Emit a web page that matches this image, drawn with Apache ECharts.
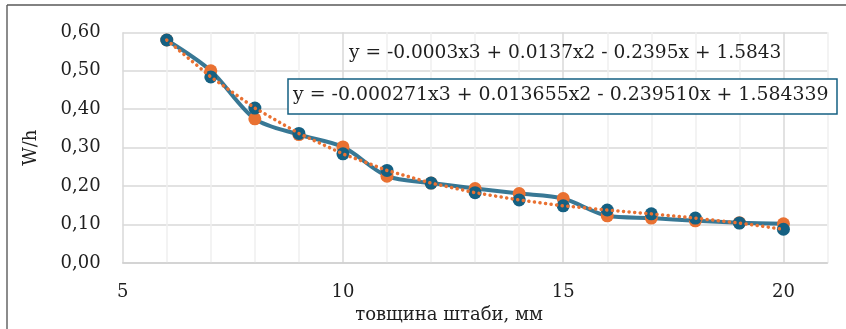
<!DOCTYPE html>
<html>
<head>
<meta charset="utf-8">
<script src="https://cdn.jsdelivr.net/npm/echarts@6/dist/echarts.min.js"></script>
<style>
  html, body { margin: 0; padding: 0; background: #ffffff; }
  #chart { width: 846px; height: 329px; }
</style>
</head>
<body>
<div id="chart"></div>
<script>
// Strip thickness, mm
const thickness = [6, 7, 8, 9, 10, 11, 12, 13, 14, 15, 16, 17, 18, 19, 20];
// Measured W/h
const measured = [0.580, 0.500, 0.375, 0.334, 0.302, 0.226, 0.208, 0.194, 0.181, 0.168, 0.123, 0.117, 0.110, 0.105, 0.102];
// Values of the cubic approximation at the same thicknesses
const fitted = [0.580, 0.484, 0.403, 0.337, 0.284, 0.241, 0.208, 0.183, 0.164, 0.149, 0.138, 0.128, 0.117, 0.104, 0.088];
// Axis ranges and ticks
const xRange = [5, 21];
const xLabelStep = 5;
const yRange = [0, 0.6];
const yStep = 0.1;
// Equation captions
const eqShort = 'y = -0.0003x3 + 0.0137x2 - 0.2395x + 1.5843';
const eqLong = 'y = -0.000271x3 + 0.013655x2 - 0.239510x + 1.584339';
const xTitle = 'товщина штаби, мм';
const yTitle = 'W/h';

const FONT = '"DejaVu Serif", serif';
const ORANGE = '#E97132';
const BLUE = '#156082';

const pair = (xs, ys) => xs.map((x, i) => [x, ys[i]]);

const chart = echarts.init(document.getElementById('chart'), null, { renderer: 'canvas' });
chart.setOption({
  backgroundColor: '#ffffff',
  animation: false,
  grid: { left: 122.7, right: 18.5, top: 32.3, bottom: 63 },
  xAxis: {
    type: 'value',
    min: xRange[0], max: xRange[1], interval: 1,
    name: xTitle,
    nameLocation: 'middle',
    nameGap: 36,
    nameTextStyle: { fontFamily: FONT, fontSize: 18, color: '#1f1f1f', padding: [0, 52, 0, 0] },
    axisLine: { show: true, lineStyle: { color: '#d0d0d0', width: 1.5 } },
    axisTick: { show: false },
    axisLabel: {
      margin: 20,
      fontFamily: FONT, fontSize: 18, color: '#1f1f1f',
      formatter: v => (v % xLabelStep === 0 ? String(v) : '')
    },
    splitLine: {
      show: true,
      lineStyle: { color: ['#d9d9d9', '#efefef', '#efefef', '#efefef', '#efefef'], width: 1.5 }
    }
  },
  yAxis: {
    type: 'value',
    min: yRange[0], max: yRange[1], interval: yStep,
    name: yTitle,
    nameLocation: 'middle',
    nameGap: 82,
    nameTextStyle: { fontFamily: FONT, fontSize: 18, color: '#1f1f1f' },
    axisLine: { show: false },
    axisTick: { show: false },
    axisLabel: {
      margin: 22,
      fontFamily: FONT, fontSize: 18, color: '#1f1f1f',
      formatter: v => v.toFixed(2).replace('.', ',')
    },
    splitLine: { show: true, lineStyle: { color: '#d9d9d9', width: 1.5 } }
  },
  series: [
    {
      // measured values: orange markers joined by a smoothed line
      type: 'line',
      data: pair(thickness, measured),
      smooth: 0.3,
      symbol: 'circle',
      symbolSize: 13,
      itemStyle: { color: ORANGE },
      lineStyle: { color: BLUE, width: 4, opacity: 0.85 },
      z: 2
    },
    {
      // approximation points
      type: 'line',
      data: pair(thickness, fitted),
      symbol: 'circle',
      symbolSize: 13,
      itemStyle: { color: BLUE },
      lineStyle: { width: 0, opacity: 0 },
      z: 3
    },
    {
      // dotted approximation curve on top
      type: 'line',
      data: pair(thickness, fitted),
      showSymbol: false,
      symbol: 'none',
      lineStyle: { color: ORANGE, width: 3.5, type: [0.1, 5.5], cap: 'round' },
      z: 4
    }
  ],
  graphic: [
    { type: 'line', shape: { x1: 7, y1: 5, x2: 7, y2: 329 }, style: { stroke: '#8c8c8c', lineWidth: 2 }, z: 10 },
    { type: 'line', shape: { x1: 7, y1: 5, x2: 846, y2: 5 }, style: { stroke: '#595959', lineWidth: 1.5 }, z: 10 },
    {
      type: 'text', left: 349, top: 44, z: 10,
      style: { text: eqShort, font: '18.6px ' + FONT, fill: '#1f1f1f' }
    },
    {
      type: 'rect', shape: { x: 288, y: 79, width: 549, height: 35 }, z: 10,
      style: { fill: '#ffffff', stroke: BLUE, lineWidth: 1.5 }
    },
    {
      type: 'text', left: 293, top: 86, z: 11,
      style: { text: eqLong, font: '18.9px ' + FONT, fill: '#1f1f1f' }
    }
  ]
});
</script>
</body>
</html>
